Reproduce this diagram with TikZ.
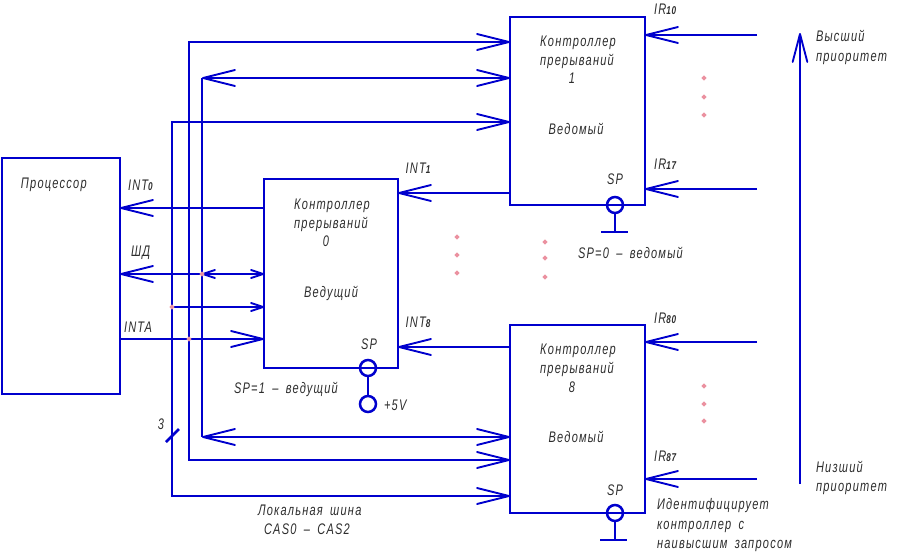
\documentclass[tikz,border=0pt]{standalone}
\usepackage{fontspec}
\setmainfont[LetterSpace=8,FakeStretch=0.72]{Liberation Sans}
\usetikzlibrary{arrows.meta,shapes.geometric}
\definecolor{wire}{RGB}{0,0,205}
\definecolor{lbl}{RGB}{45,45,45}
\definecolor{dotc}{RGB}{235,145,160}
\tikzset{
  blk/.style={draw=wire,line width=1.9pt,rectangle,fill=none,inner sep=0,outer sep=0},
  wirel/.style={draw=wire,line width=1.9pt},
  big/.tip={Straight Barb[length=24pt,width=12pt,line width=1.4pt,round]},
  sml/.tip={Straight Barb[length=9pt,width=6pt,line width=1.4pt,round]},
  txt/.style={font=\fontsize{11.5}{13}\selectfont\itshape,text=lbl,inner sep=0,outer sep=0,text height=8pt,text depth=2pt,yshift=-0.8pt},
  ltxt/.style={txt,anchor=west},
  sb/.style={blk,circle,minimum size=12pt},
  pinkdot/.style={diamond,fill=dotc,inner sep=0,minimum size=4pt}
}
\newcommand{\sbs}[1]{{\fontsize{8.5}{9}\selectfont\bfseries #1}}
\newcommand{\wsp}{\hspace{5.5pt}}
\begin{document}
\begin{tikzpicture}[x=0.75pt,y=-0.75pt]
\useasboundingbox (0,0) rectangle (901,553);
% blocks
\node[blk,minimum width=88.5pt,minimum height=177pt] (cpu) at (61,276) {};
\node[blk,minimum width=100.5pt,minimum height=141.75pt] (m) at (331,273.5) {};
\node[blk,minimum width=101.25pt,minimum height=141pt] (sa) at (577.5,111) {};
\node[blk,minimum width=101.25pt,minimum height=141pt] (sb) at (577.5,419) {};
% SP circles
\node[sb] (spm) at (368,368) {};
\node[sb] (vcc) at (368,404) {};
\node[sb] (spa) at (615,205) {};
\node[sb] (spb) at (615,513) {};
% coordinates
\coordinate (gaM) at (615,232); \coordinate (gaL) at (601,232); \coordinate (gaR) at (628,232);
\coordinate (gbM) at (615,540); \coordinate (gbL) at (600,540); \coordinate (gbR) at (627,540);
\coordinate (a42) at (510,42); \coordinate (a78) at (510,78); \coordinate (a122) at (510,122);
\coordinate (b437) at (510,437); \coordinate (b460) at (510,460); \coordinate (b496) at (510,496);
\coordinate (c42) at (189,42); \coordinate (c460) at (189,460);
\coordinate (d78) at (202,78); \coordinate (d437) at (202,437);
\coordinate (e122) at (172,122); \coordinate (e496) at (172,496);
\coordinate (j274) at (202,274); \coordinate (j274r) at (264,274); \coordinate (j274l) at (120,274);
\coordinate (j307) at (172,307); \coordinate (j307r) at (264,307);
\coordinate (j339) at (189,339); \coordinate (j339r) at (264,339); \coordinate (j339l) at (120,339);
\coordinate (i208m) at (264,208); \coordinate (i208c) at (120,208);
\coordinate (i193s) at (510,193); \coordinate (i193m) at (398,193);
\coordinate (i347s) at (510,347); \coordinate (i347m) at (398,347);
\coordinate (r35a) at (757,35); \coordinate (r35b) at (645,35);
\coordinate (r189a) at (757,189); \coordinate (r189b) at (645,189);
\coordinate (r342a) at (757,342); \coordinate (r342b) at (645,342);
\coordinate (r479a) at (757,479); \coordinate (r479b) at (645,479);
\coordinate (pl) at (800,484); \coordinate (ph) at (800,33);
\coordinate (t1) at (166,442); \coordinate (t2) at (179,429);
% buses
\draw[wirel,{big}-{big}] (a42) -- (c42) -- (c460) -- (b460);
\draw[wirel,{big}-{big}] (a122) -- (e122) -- (e496) -- (b496);
\draw[wirel] (d78) -- (d437);
\draw[wirel,{big}-{big}] (d78) -- (a78);
\draw[wirel,{big}-{big}] (d437) -- (b437);
% processor links
\draw[wirel,-{big}] (i208m) -- (i208c);
\draw[wirel,{big}-{sml}] (j274l) -- (j274r);
\draw[wirel,{sml}-] (j274) -- +(16,0);
\draw[wirel,-{sml}] (j307) -- (j307r);
\draw[wirel,-{big}] (j339l) -- (j339r);
% INT
\draw[wirel,-{big}] (i193s) -- (i193m);
\draw[wirel,-{big}] (i347s) -- (i347m);
% IR
\draw[wirel,-{big}] (r35a) -- (r35b);
\draw[wirel,-{big}] (r189a) -- (r189b);
\draw[wirel,-{big}] (r342a) -- (r342b);
\draw[wirel,-{big}] (r479a) -- (r479b);
% priority
\draw[wirel,-{Straight Barb[length=21pt,width=11pt,line width=1.4pt,round]}] (pl) -- (ph);
% SP
\draw[wirel] (spm) -- (vcc);
\draw[wirel] (spa) -- (gaM); \draw[wirel] (gaL) -- (gaR);
\draw[wirel] (spb) -- (gbM); \draw[wirel] (gbL) -- (gbR);
\draw[wirel] (t1) -- (t2);
% pink dots
\foreach \n/\x/\y in {j1/202/274,j2/172/307,j3/189/339,
  p1/704/78,p2/704/97,p3/704/115,
  q1/457/237,q2/457/255,q3/457/273,
  w1/545/242,w2/545/258,w3/545/277,
  v1/704/386,v2/704/404,v3/704/421}
  \node[pinkdot] (\n) at (\x,\y) {};
% text
\node[ltxt] (tcpu) at (21,183) {Процессор};
\node[ltxt] (tint0) at (128,185) {INT\sbs{0}};
\node[ltxt] (tsd) at (131,251) {ШД};
\node[ltxt] (tinta) at (124,327) {INTA};
\node[txt] (m1) at (332,204) {Контроллер};
\node[txt] (m2) at (331,223) {прерываний};
\node[txt] (m3) at (326,241) {0};
\node[txt] (m4) at (331,292) {Ведущий};
\node[txt] (mp) at (369,344) {SP};
\node[txt] (ti1) at (418,168) {INT\sbs{1}};
\node[txt] (ti8) at (418,322) {INT\sbs{8}};
\node[ltxt] (tsp1) at (234,388) {SP=1\wsp–\wsp ведущий};
\node[ltxt] (t5v) at (384,405) {+5V};
\node[txt] (t3) at (161,424) {3};
\node[ltxt] (tl1) at (258,510) {Локальная\wsp шина};
\node[ltxt] (tl2) at (264,529) {CAS0\wsp–\wsp CAS2};
\node[txt] (a1) at (578,41) {Контроллер};
\node[txt] (a2) at (577,60) {прерываний};
\node[txt] (a3) at (572,78) {1};
\node[txt] (a4) at (576,129) {Ведомый};
\node[txt] (ap) at (615,179) {SP};
\node[ltxt] (ir10) at (654,9) {IR\sbs{10}};
\node[ltxt] (ir17) at (654,164) {IR\sbs{17}};
\node[ltxt] (tsp0) at (578,253) {SP=0\wsp–\wsp ведомый};
\node[ltxt] (hi1) at (816,36) {Высший};
\node[ltxt] (hi2) at (816,56) {приоритет};
\node[ltxt] (lo1) at (816,467) {Низший};
\node[ltxt] (lo2) at (816,486) {приоритет};
\node[txt] (b1) at (578,349) {Контроллер};
\node[txt] (b2) at (577,368) {прерываний};
\node[txt] (b3) at (572,387) {8};
\node[txt] (b4) at (576,437) {Ведомый};
\node[txt] (bp) at (615,490) {SP};
\node[ltxt] (ir80) at (654,318) {IR\sbs{80}};
\node[ltxt] (ir87) at (654,456) {IR\sbs{87}};
\node[ltxt] (id1) at (657,504) {Идентифицирует};
\node[ltxt] (id2) at (657,524) {контроллер\wsp с};
\node[ltxt] (id3) at (657,543) {наивысшим\wsp запросом};
\end{tikzpicture}
\end{document}
